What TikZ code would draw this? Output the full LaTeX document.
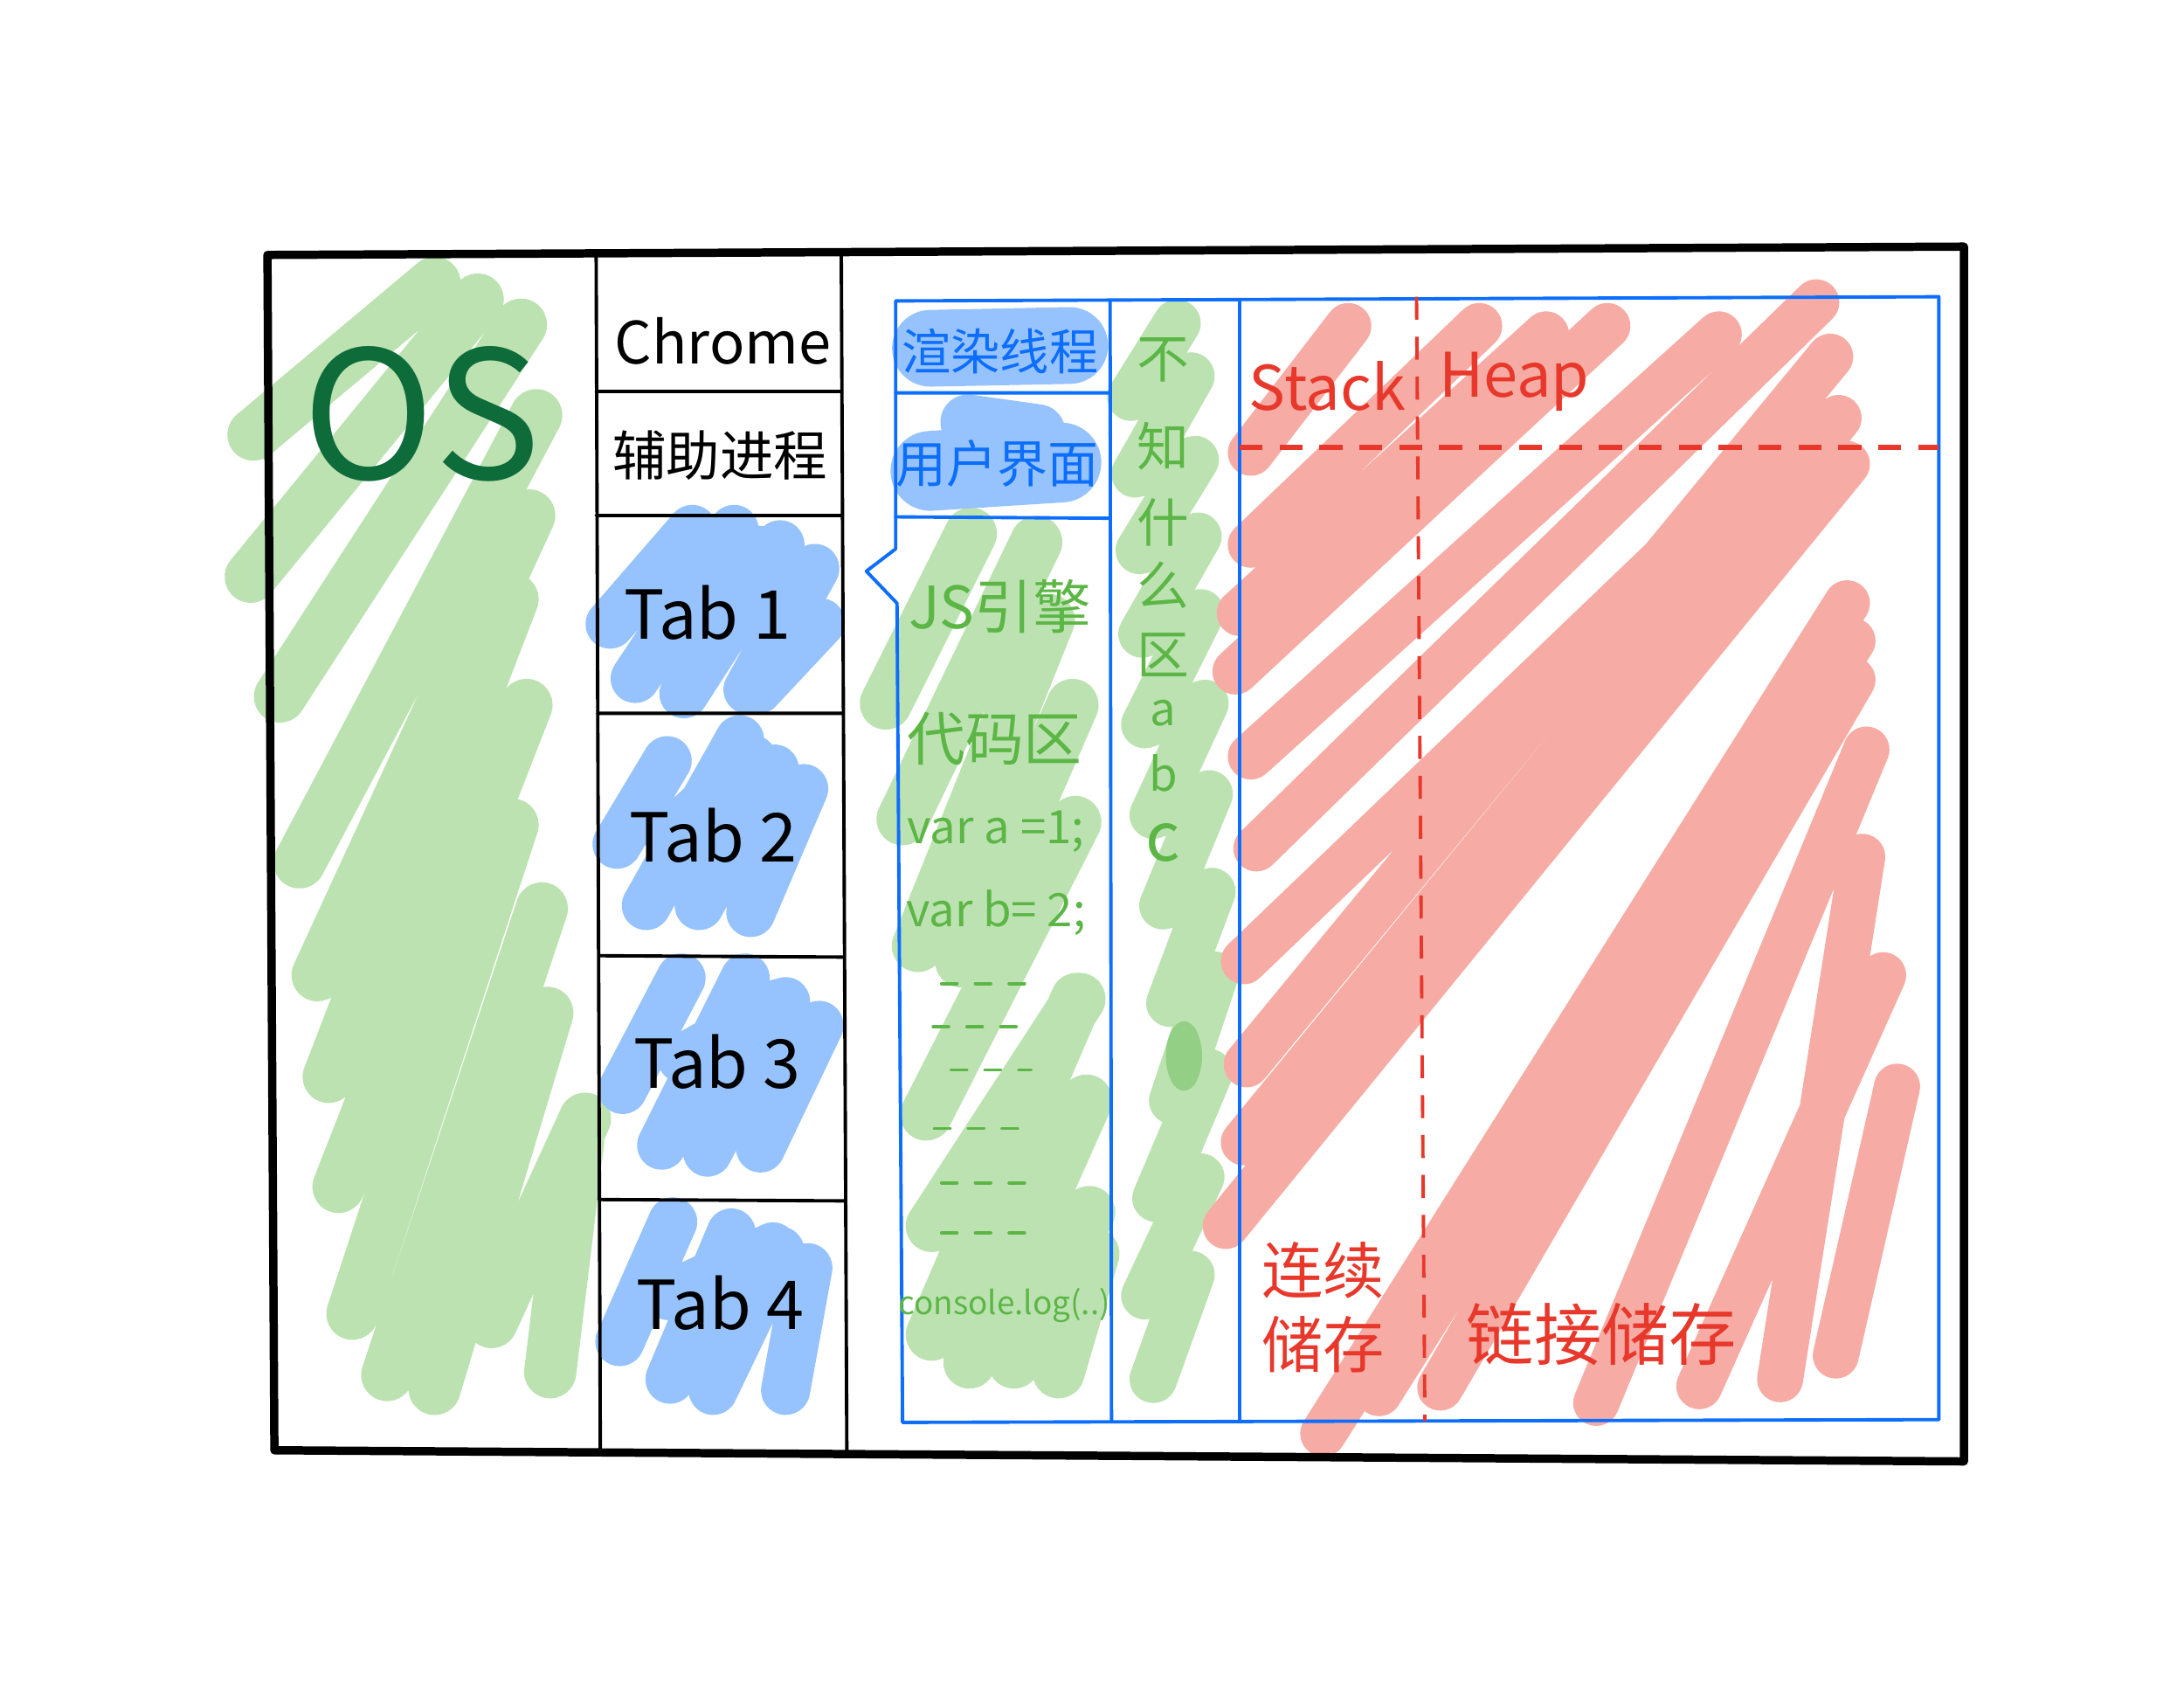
\documentclass[tikz,border=0pt]{standalone}
\usepackage{fontspec}
\setmainfont{Noto Sans CJK SC}
\definecolor{markgreen}{RGB}{189,226,178}
\definecolor{darkmark}{RGB}{147,207,132}
\definecolor{markblue}{RGB}{150,195,253}
\definecolor{markred}{RGB}{246,172,164}
\definecolor{osgreen}{RGB}{14,107,58}
\definecolor{pengreen}{RGB}{92,182,70}
\definecolor{penblue}{RGB}{13,110,253}
\definecolor{penred}{RGB}{232,56,43}
\newcommand\hand[1]{\fontsize{#1}{#1}\selectfont}

\begin{document}
\begin{tikzpicture}[x=0.015944cm,y=-0.015944cm,line cap=round,line join=round,
    greenmark/.style={draw=markgreen,line width=17pt},
    bluemark/.style={draw=markblue,line width=16pt},
    redmark/.style={draw=markred,line width=15pt},
    frame/.style={draw=black,line width=1.1pt},
    bluebox/.style={draw=penblue,line width=1.1pt},
    reddash/.style={draw=penred,line width=1.6pt,line cap=butt,dash pattern=on 7.5pt off 5.5pt},
    codedash/.style={draw=pengreen,line width=1.1pt,dash pattern=on 5pt off 6pt},
    txt/.style={inner sep=0pt}]
  \useasboundingbox (0,0) rectangle (1568,1212);

  % marker scribbles
  \draw[greenmark]
    (182,312) -- (312,203) (180,414) -- (343,215) (201,500) -- (374,233)
    (215,619) -- (385,298) (236,773) -- (368,430) (243,852) -- (378,506)
    (253,943) -- (368,592) (278,987) -- (389,652) (312,997) -- (393,727)
    (353,949) -- (420,803) (395,985) -- (415,820) (228,700) -- (380,370);
  \draw[greenmark]
    (636,505) -- (697,383) (648,588) -- (744,389) (659,679) -- (753,445)
    (690,690) -- (770,506) (665,800) -- (772,590) (669,880) -- (775,717)
    (669,958) -- (773,717) (696,978) -- (780,790) (728,978) -- (782,870)
    (760,985) -- (785,900);
  \draw[greenmark,line width=15.5pt]
    (845,232) -- (812,285) -- (855,270) -- (815,340) -- (858,330) -- (818,395)
    -- (860,385) -- (820,455) -- (862,440) -- (822,520) -- (865,505) -- (828,585)
    -- (868,570) -- (835,650) -- (870,640) -- (840,720) -- (872,700) -- (842,790)
    -- (868,770) -- (830,860) -- (862,845) -- (822,930) -- (855,915) -- (828,990);
  \fill[darkmark] (850,758) ellipse [x radius=13, y radius=25];
  \draw[bluemark]
    (438,448) -- (497,380) (456,487) -- (527,380) (491,498) -- (560,391)
    (537,495) -- (585,408) (544,495) -- (589,447) (470,470) -- (545,395)
    (443,606) -- (479,546) (464,650) -- (531,531) (502,650) -- (556,552)
    (539,655) -- (577,566) (480,600) -- (540,545)
    (447,782) -- (489,702) (475,822) -- (535,702) (508,827) -- (564,719)
    (546,824) -- (588,736) (490,760) -- (560,720)
    (445,963) -- (483,877) (481,990) -- (525,885) (512,998) -- (560,898)
    (564,998) -- (580,910) (480,930) -- (555,895);
  \draw[bluemark,line width=25pt] (668,250) -- (768,248);
  \draw[bluemark,line width=26pt] (668,338) -- (762,332);
  \draw[bluemark,line width=18pt] (695,303) -- (745,310);
  \draw[redmark]
    (898,325) -- (968,234) (898,391) -- (1062,234) (890,440) -- (1110,240)
    (887,482) -- (1154,234) (898,543) -- (1234,240) (902,609) -- (1304,217)
    (893,690) -- (1300,300) (895,764) -- (1314,256) (893,820) -- (1320,300)
    (880,880) -- (1326,333) (950,1029) -- (1326,433) (990,1000) -- (1330,460)
    (1034,996) -- (1330,488) (1146,1007) -- (1340,538)
    (1220,995) -- (1352,700) (1278,990) -- (1337,615) (1318,973) -- (1362,780);

  % outer frame and process column
  \draw[frame,line width=2.7pt] (192,183) -- (1410,177) -- (1410,1049) -- (197,1041) -- cycle;
  \draw[frame]
    (428,183) -- (431,1041) (604,182) -- (608,1045)
    (428,281) -- (604,281) (428,370) -- (605,370) (429,512) -- (605,512)
    (430,686) -- (606,687) (430,861) -- (607,862);

  % renderer box
  \draw[bluebox] (643,394) -- (643,216) -- (1392,213) -- (1392,1019) -- (648,1021)
    -- (644,433) -- (622,410) -- cycle;
  \draw[bluebox]
    (797,216) -- (798,1020) (890,215) -- (890,1020)
    (643,282) -- (797,282) (643,371) -- (797,372);
  \draw[reddash] (890,321) -- (1392,321);
  \draw[reddash,line width=1.1pt] (1017,213) -- (1023,1020);
  \foreach \y/\a/\b in {706/676/741, 737/670/735, 768/683/740, 810/671/743, 849/676/738, 885/676/740}
    \draw[codedash] (\a,\y) -- (\b,\y);

  % labels
  \node[txt,text=osgreen,font=\hand{58}] (os) at (303,297) {OS};
  \node[txt,font=\hand{19}] (chrome) at (519,245) {Chrome};
  \node[txt,font=\hand{17.5}] (helper) at (517,327) {辅助进程};
  \node[txt,font=\hand{22}] (tab1) at (508,440) {Tab 1};
  \node[txt,font=\hand{22}] (tab2) at (512,600) {Tab 2};
  \node[txt,font=\hand{22}] (tab3) at (515,762) {Tab 3};
  \node[txt,font=\hand{22}] (tab4) at (517,935) {Tab 4};

  \node[txt,text=penblue,font=\hand{16}] (render) at (718,252) {渲染线程};
  \node[txt,text=penblue,font=\hand{16.5}] (ui) at (716,333) {用户界面};
  \node[txt,text=pengreen,font=\hand{19}] (js) at (718,435) {JS引擎};
  \node[txt,text=pengreen,font=\hand{19}] (code) at (714,530) {代码区};
  \node[txt,text=pengreen,font=\hand{15}] (vara) at (715,597) {var a =1;};
  \node[txt,text=pengreen,font=\hand{15}] (varb) at (715,655) {var b= 2;};
  \node[txt,text=pengreen,font=\hand{10.5}] (console) at (721,937) {console.log(..)};
  \foreach \ch/\y/\s [count=\i] in {不/258/17, 知/320/17, 什/375/17, 么/420/17, 区/470/17, a/512/15, b/555/15, c/605/22}
    \node[txt,text=pengreen,font=\hand{\s}] (unknown\i) at (835,\y) {\ch};

  \node[txt,text=penred,font=\hand{20}] (stack) at (953,277) {Stack};
  \node[txt,text=penred,font=\hand{20}] (heap) at (1087,274) {Heap};
  \node[txt,text=penred,font=\hand{20}] (contig) at (950,912) {连续};
  \node[txt,text=penred,font=\hand{20}] (contig2) at (950,965) {储存};
  \node[txt,text=penred,font=\hand{22}] (linked) at (1150,958) {链接储存};
\end{tikzpicture}
\end{document}
